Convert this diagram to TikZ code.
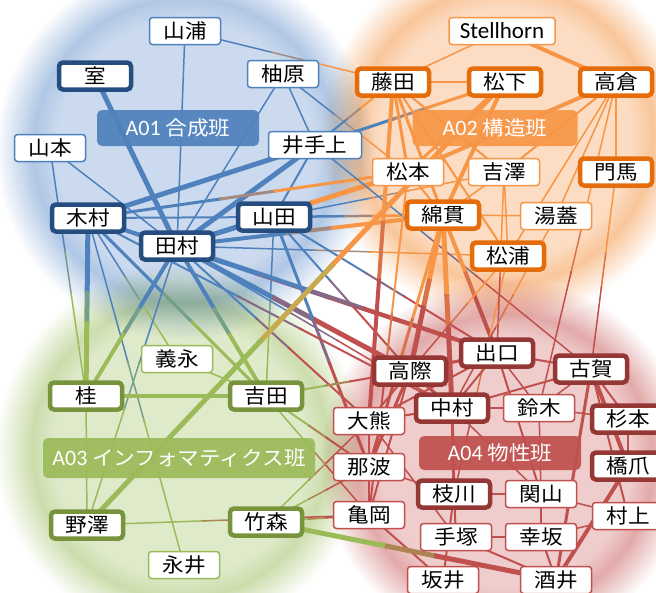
\documentclass[tikz,border=0pt]{standalone}
\usepackage{fontspec}
\setmainfont{Noto Sans CJK JP}[FakeStretch=1.08]
\newfontfamily\latf{Carlito}
\usetikzlibrary{calc}
\definecolor{cA}{HTML}{4F81BD}
\definecolor{cB}{HTML}{F79646}
\definecolor{cC}{HTML}{9BBB59}
\definecolor{cD}{HTML}{C0504D}
\definecolor{dA}{HTML}{254D80}
\definecolor{dB}{HTML}{E46C0A}
\definecolor{dC}{HTML}{77933C}
\definecolor{dD}{HTML}{953735}
\definecolor{bA0}{HTML}{CBDAEE}
\definecolor{bA1}{HTML}{B0C7E5}
\definecolor{bB0}{HTML}{FCDCC2}
\definecolor{bB1}{HTML}{F9C69B}
\definecolor{bC0}{HTML}{DFEACB}
\definecolor{bC1}{HTML}{CCDDAC}
\definecolor{bD0}{HTML}{EFCDCC}
\definecolor{bD1}{HTML}{E2AAA9}
\pgfdeclareradialshading{blobA}{\pgfpoint{0bp}{0bp}}{color(0bp)=(bA0); color(17bp)=(bA0); color(20bp)=(bA1); color(25bp)=(white); color(50bp)=(white)}
\pgfdeclareradialshading{blobB}{\pgfpoint{0bp}{0bp}}{color(0bp)=(bB0); color(17bp)=(bB0); color(20bp)=(bB1); color(25bp)=(white); color(50bp)=(white)}
\pgfdeclareradialshading{blobC}{\pgfpoint{0bp}{0bp}}{color(0bp)=(bC0); color(17bp)=(bC0); color(20bp)=(bC1); color(25bp)=(white); color(50bp)=(white)}
\pgfdeclareradialshading{blobD}{\pgfpoint{0bp}{0bp}}{color(0bp)=(bD0); color(17bp)=(bD0); color(20bp)=(bD1); color(25bp)=(white); color(50bp)=(white)}
\pgfdeclarelayer{bg}
\pgfdeclarelayer{edges}
\pgfsetlayers{bg,edges,main}
\makeatletter
\newcommand\grp[2]{\expandafter\def\csname gc@#1\endcsname{#2}}
\newcommand\lnk[3]{%
  \edef\Eca{\csname gc@#1\endcsname}\edef\Ecb{\csname gc@#2\endcsname}%
  \ifx\Eca\Ecb
    \draw[line width=#3pt, draw=\Eca] (#1.center) -- (#2.center);
  \else
    \draw[line width=#3pt, draw=\Eca] (#1.center) -- ($(#1.center)!0.42!(#2.center)$);
    \draw[line width=#3pt, draw=\Eca!50!\Ecb] ($(#1.center)!0.41!(#2.center)$) -- ($(#1.center)!0.59!(#2.center)$);
    \draw[line width=#3pt, draw=\Ecb] ($(#1.center)!0.58!(#2.center)$) -- (#2.center);
  \fi}
\makeatother
\tikzset{
  pbox/.style={fill=white, text=black, inner sep=0pt, minimum height=27pt,
    font=\fontsize{20}{22}\selectfont},
  thinA/.style={pbox, draw=cA, line width=1.5pt, rounded corners=3pt, minimum width=71pt},
  thinB/.style={pbox, draw=cB, line width=1.5pt, rounded corners=3pt, minimum width=71pt},
  thinC/.style={pbox, draw=cC, line width=1.5pt, rounded corners=3pt, minimum width=71pt},
  thinD/.style={pbox, draw=cD, line width=1.5pt, rounded corners=3pt, minimum width=71pt},
  fatA/.style={pbox, draw=dA, line width=4.5pt, rounded corners=4pt, minimum width=72pt},
  fatB/.style={pbox, draw=dB, line width=4.5pt, rounded corners=4pt, minimum width=72pt},
  fatC/.style={pbox, draw=dC, line width=4.5pt, rounded corners=4pt, minimum width=72pt},
  fatD/.style={pbox, draw=dD, line width=4.5pt, rounded corners=4pt, minimum width=72pt},
  grlabel/.style={text=white, rounded corners=5pt, inner sep=0pt, fill opacity=0.92, text opacity=1,
    font=\fontsize{20}{22}\selectfont},
  blob/.style={blend mode=multiply},
}
\begin{document}
\begin{tikzpicture}[x=1pt,y=-1pt]
\useasboundingbox (0,0) rectangle (656,592);
% group labels
\node[grlabel, fill=cA, minimum width=162pt, minimum height=36pt] (labA) at (178,128) {{\latf\fontsize{22}{22}\selectfont A01} 合成班};
\node[grlabel, fill=cB, minimum width=165pt, minimum height=36pt] (labB) at (495,128) {{\latf\fontsize{22}{22}\selectfont A02} 構造班};
\node[grlabel, fill=cC, minimum width=272pt, minimum height=40pt] (labC) at (179,458) {{\latf\fontsize{22}{22}\selectfont A03} インフォマティクス班};
\node[grlabel, fill=cD, minimum width=162pt, minimum height=34pt] (labD) at (500,453) {{\latf\fontsize{22}{22}\selectfont A04} 物性班};
% A01
\node[thinA] (yamaura) at (185,31) {山浦};
\node[fatA] (muro) at (95,76) {室};
\node[thinA] (yuhara) at (283,74) {柚原};
\node[thinA] (yamamoto) at (50,148) {山本};
\node[thinA, minimum width=93pt] (ideue) at (315,145) {井手上};
\node[fatA] (kimura) at (88,218) {木村};
\node[fatA] (tamura) at (177,246) {田村};
\node[fatA] (yamada) at (274,217) {山田};
% A02
\node[thinB, minimum width=106pt] (stell) at (502,31) {\latf\fontsize{23}{22}\selectfont Stellhorn};
\node[fatB] (fujita) at (393,82) {藤田};
\node[fatB] (matsushita) at (505,82) {松下};
\node[fatB] (takakura) at (616,82) {高倉};
\node[thinB] (matsumoto) at (408,172) {松本};
\node[thinB] (yoshizawa) at (504,172) {吉澤};
\node[fatB] (monma) at (616,172) {門馬};
\node[fatB] (watanuki) at (443,215) {綿貫};
\node[thinB] (yufuta) at (556,216) {湯蓋};
\node[fatB] (matsuura) at (508,256) {松浦};
% A03
\node[thinC] (yoshinaga) at (177,359) {義永};
\node[fatC] (katsura) at (86,396) {桂};
\node[fatC] (yoshida) at (266,396) {吉田};
\node[fatC] (nozawa) at (87,525) {野澤};
\node[fatC] (takemori) at (266,522) {竹森};
\node[thinC] (nagai) at (184,565) {永井};
% A04
\node[fatD] (deguchi) at (497,353) {出口};
\node[fatD] (takagiwa) at (410,371) {高際};
\node[fatD] (koga) at (591,369) {古賀};
\node[fatD] (nakamura) at (452,408) {中村};
\node[thinD] (suzuki) at (539,408) {鈴木};
\node[fatD] (sugimoto) at (628,419) {杉本};
\node[thinD] (okuma) at (369,421) {大熊};
\node[thinD] (nawa) at (369,467) {那波};
\node[fatD] (hashizume) at (628,466) {橋爪};
\node[fatD] (edagawa) at (454,494) {枝川};
\node[thinD] (sekiyama) at (541,494) {関山};
\node[thinD] (kameoka) at (369,515) {亀岡};
\node[thinD] (murakami) at (628,516) {村上};
\node[thinD] (tezuka) at (456,537) {手塚};
\node[thinD] (kosaka) at (541,537) {幸坂};
\node[thinD] (sakaiA) at (443,580) {坂井};
\node[thinD] (sakaiB) at (556,580) {酒井};
% groups
\grp{yamaura}{cA}\grp{muro}{cA}\grp{yuhara}{cA}\grp{yamamoto}{cA}\grp{ideue}{cA}\grp{kimura}{cA}\grp{tamura}{cA}\grp{yamada}{cA}
\grp{stell}{cB}\grp{fujita}{cB}\grp{matsushita}{cB}\grp{takakura}{cB}\grp{matsumoto}{cB}\grp{yoshizawa}{cB}\grp{monma}{cB}\grp{watanuki}{cB}\grp{yufuta}{cB}\grp{matsuura}{cB}
\grp{yoshinaga}{cC}\grp{katsura}{cC}\grp{yoshida}{cC}\grp{nozawa}{cC}\grp{takemori}{cC}\grp{nagai}{cC}
\grp{deguchi}{cD}\grp{takagiwa}{cD}\grp{koga}{cD}\grp{nakamura}{cD}\grp{suzuki}{cD}\grp{sugimoto}{cD}\grp{okuma}{cD}\grp{nawa}{cD}\grp{hashizume}{cD}\grp{edagawa}{cD}\grp{sekiyama}{cD}\grp{kameoka}{cD}\grp{murakami}{cD}\grp{tezuka}{cD}\grp{kosaka}{cD}\grp{sakaiA}{cD}\grp{sakaiB}{cD}
\begin{pgfonlayer}{bg}
\shade[blob, shading=blobA] (185,150) circle [radius=190pt];
\shade[blob, shading=blobB] (505,135) circle [radius=185pt];
\shade[blob, shading=blobC] (180,450) circle [radius=185pt];
\shade[blob, shading=blobD] (505,462) circle [radius=185pt];
\end{pgfonlayer}
\begin{pgfonlayer}{edges}
% A internal
\lnk{yamaura}{tamura}{1.5}
\lnk{muro}{tamura}{5}
\lnk{yuhara}{tamura}{1.5}
\lnk{yuhara}{ideue}{1.5}
\lnk{yamamoto}{tamura}{1.5}
\lnk{kimura}{tamura}{3}
\lnk{kimura}{ideue}{5}
\lnk{kimura}{yamada}{2}
\lnk{tamura}{ideue}{5}
\lnk{tamura}{yamada}{3}
\lnk{ideue}{yamada}{2}
% A-B
\lnk{yamaura}{fujita}{1.5}
\lnk{yuhara}{matsumoto}{1.5}
\lnk{ideue}{fujita}{2}
\lnk{tamura}{matsumoto}{5}
\lnk{kimura}{matsumoto}{3}
\lnk{tamura}{watanuki}{4}
\lnk{yamada}{watanuki}{2.5}
\lnk{yamada}{yoshizawa}{1.5}
\lnk{tamura}{matsuura}{1.5}
\lnk{ideue}{matsushita}{3}
% A-C
\lnk{kimura}{katsura}{5}
\lnk{kimura}{yoshida}{3}
\lnk{kimura}{yoshinaga}{1.5}
\lnk{kimura}{nagai}{1.5}
\lnk{tamura}{katsura}{4}
\lnk{tamura}{yoshida}{4}
\lnk{tamura}{nozawa}{1.5}
\lnk{yamada}{yoshida}{1.5}
\lnk{yamamoto}{katsura}{1.5}
% A-D
\lnk{kimura}{deguchi}{4}
\lnk{tamura}{deguchi}{4}
\lnk{tamura}{takagiwa}{5}
\lnk{tamura}{okuma}{2}
\lnk{tamura}{nakamura}{1.5}
\lnk{yamada}{takagiwa}{2}
\lnk{yamada}{nawa}{3}
\lnk{kimura}{nakamura}{2}
\lnk{ideue}{koga}{1.5}
\lnk{yamada}{deguchi}{2}
% B internal
\lnk{stell}{fujita}{1.5}
\lnk{stell}{takakura}{4}
\lnk{fujita}{matsushita}{1.5}
\lnk{fujita}{matsumoto}{3}
\lnk{fujita}{watanuki}{3}
\lnk{fujita}{matsuura}{2}
\lnk{fujita}{yoshizawa}{2}
\lnk{matsushita}{matsumoto}{3}
\lnk{matsushita}{watanuki}{4}
\lnk{takakura}{matsumoto}{4}
\lnk{takakura}{yoshizawa}{2}
\lnk{takakura}{yufuta}{1.5}
\lnk{takakura}{matsuura}{1.5}
\lnk{takakura}{monma}{1.5}
\lnk{matsumoto}{watanuki}{2}
\lnk{yoshizawa}{watanuki}{1.5}
\lnk{watanuki}{yufuta}{1.5}
\lnk{yoshizawa}{matsuura}{1.5}
% B-C
\lnk{matsushita}{nozawa}{5}
% B-D
\lnk{fujita}{okuma}{4}
\lnk{watanuki}{takagiwa}{5}
\lnk{watanuki}{nakamura}{5}
\lnk{watanuki}{deguchi}{4}
\lnk{watanuki}{nawa}{3}
\lnk{matsuura}{edagawa}{1.5}
\lnk{yoshizawa}{deguchi}{1.5}
\lnk{monma}{koga}{1.5}
\lnk{yufuta}{nakamura}{1.5}
\lnk{matsumoto}{kameoka}{2}
\lnk{takakura}{suzuki}{1.5}
\lnk{matsuura}{takagiwa}{1.5}
% D internal
\lnk{deguchi}{takagiwa}{3}
\lnk{deguchi}{koga}{2}
\lnk{deguchi}{nakamura}{2}
\lnk{deguchi}{suzuki}{1.5}
\lnk{deguchi}{okuma}{2}
\lnk{takagiwa}{nakamura}{3}
\lnk{takagiwa}{okuma}{2}
\lnk{takagiwa}{nawa}{3}
\lnk{takagiwa}{kameoka}{2}
\lnk{koga}{suzuki}{1.5}
\lnk{koga}{sugimoto}{2}
\lnk{koga}{hashizume}{4}
\lnk{koga}{murakami}{2}
\lnk{koga}{nakamura}{2}
\lnk{nakamura}{suzuki}{2}
\lnk{nakamura}{okuma}{2}
\lnk{nakamura}{edagawa}{3}
\lnk{nakamura}{sekiyama}{1.5}
\lnk{suzuki}{sekiyama}{1.5}
\lnk{suzuki}{sugimoto}{1.5}
\lnk{okuma}{nawa}{2}
\lnk{nawa}{kameoka}{2}
\lnk{nawa}{edagawa}{1.5}
\lnk{edagawa}{sekiyama}{2}
\lnk{edagawa}{tezuka}{2}
\lnk{sekiyama}{kosaka}{2}
\lnk{sekiyama}{murakami}{1.5}
\lnk{tezuka}{kosaka}{1.5}
\lnk{tezuka}{sakaiB}{2}
\lnk{kosaka}{sakaiB}{2}
\lnk{kosaka}{murakami}{1.5}
\lnk{hashizume}{sakaiB}{4}
\lnk{sugimoto}{hashizume}{2}
\lnk{kameoka}{sakaiA}{2}
\lnk{koga}{sakaiB}{3}
\lnk{edagawa}{sakaiA}{2}
\lnk{okuma}{tezuka}{1.5}
\lnk{deguchi}{sekiyama}{2}
% C-D
\lnk{nozawa}{kameoka}{1.5}
\lnk{takemori}{kameoka}{1.5}
\lnk{takemori}{nawa}{1.5}
\lnk{takemori}{okuma}{1.5}
\lnk{takemori}{sakaiB}{5}
\lnk{yoshida}{nawa}{2}
\lnk{yoshida}{takagiwa}{2}
\lnk{yoshida}{kameoka}{1.5}
% C internal
\lnk{katsura}{yoshida}{4}
\lnk{yoshinaga}{yoshida}{1.5}
\lnk{nozawa}{katsura}{1.5}
\end{pgfonlayer}
\end{tikzpicture}
\end{document}
